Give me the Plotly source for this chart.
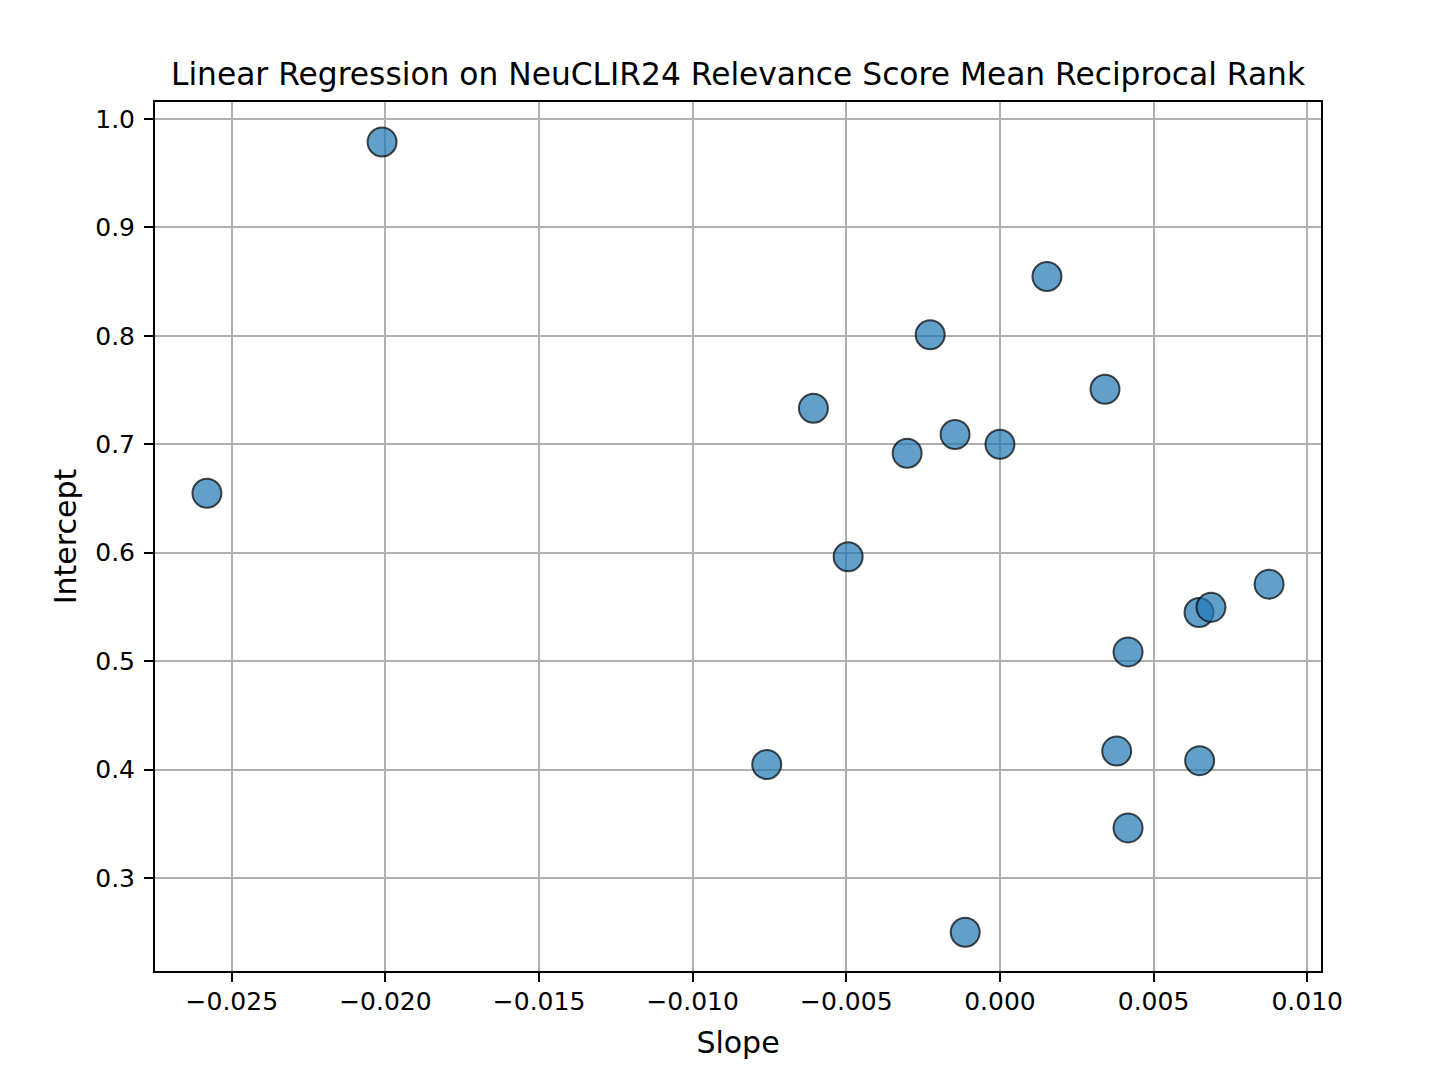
import plotly.graph_objects as go

slope = [-0.02581, -0.02011, -0.00607, -0.00759, -0.00494, -0.00302, -0.00227, -0.00146,
         0.00000, -0.00113, 0.00153, 0.00342, 0.00417, 0.00380, 0.00417, 0.00648,
         0.00687, 0.00650, 0.00876]
intercept = [0.6548, 0.9788, 0.7332, 0.4046, 0.5963, 0.6917, 0.8010, 0.7090,
             0.7000, 0.2500, 0.8548, 0.7507, 0.5085, 0.4170, 0.3462, 0.5448,
             0.5496, 0.4082, 0.5710]

x_ticks = [-0.025, -0.020, -0.015, -0.010, -0.005, 0.000, 0.005, 0.010]
y_ticks = [0.3, 0.4, 0.5, 0.6, 0.7, 0.8, 0.9, 1.0]

FONT = "DejaVu Sans"

fig = go.Figure()
fig.add_trace(go.Scatter(
    x=slope, y=intercept, mode="markers",
    marker=dict(size=29, color="rgba(31,119,180,0.7)",
                line=dict(color="rgba(0,0,0,0.7)", width=2)),
    showlegend=False,
))

axis_common = dict(
    showline=True, linecolor="black", linewidth=2, mirror=True,
    showgrid=True, gridcolor="#b0b0b0", gridwidth=2,
    ticks="outside", ticklen=9, tickwidth=2, tickcolor="black",
    tickfont=dict(family=FONT, size=25, color="black"),
    zeroline=False,
)

fig.update_xaxes(
    range=[-0.0275, 0.01045], tickvals=x_ticks, tickformat=".3f",
    ticklabelstandoff=-2,
    title=dict(text="Slope", font=dict(family=FONT, size=30, color="black"), standoff=17),
    **axis_common,
)
fig.update_yaxes(
    range=[0.2142, 1.0157], tickvals=y_ticks, tickformat=".1f",
    ticklabelstandoff=4,
    title=dict(text="Intercept", font=dict(family=FONT, size=30, color="black"), standoff=10),
    **axis_common,
)

fig.update_layout(
    width=1435, height=1084,
    margin=dict(l=147, r=122, t=94, b=121),
    paper_bgcolor="white", plot_bgcolor="white",
    font=dict(family=FONT, color="black"),
    title=dict(text="Linear Regression on NeuCLIR24 Relevance Score Mean Reciprocal Rank",
               font=dict(family=FONT, size=31.3, color="black"),
               x=0.5, xref="paper", xanchor="center",
               y=1 - 66 / 1084, yref="container", yanchor="middle"),
)

fig.write_html("out.html")
